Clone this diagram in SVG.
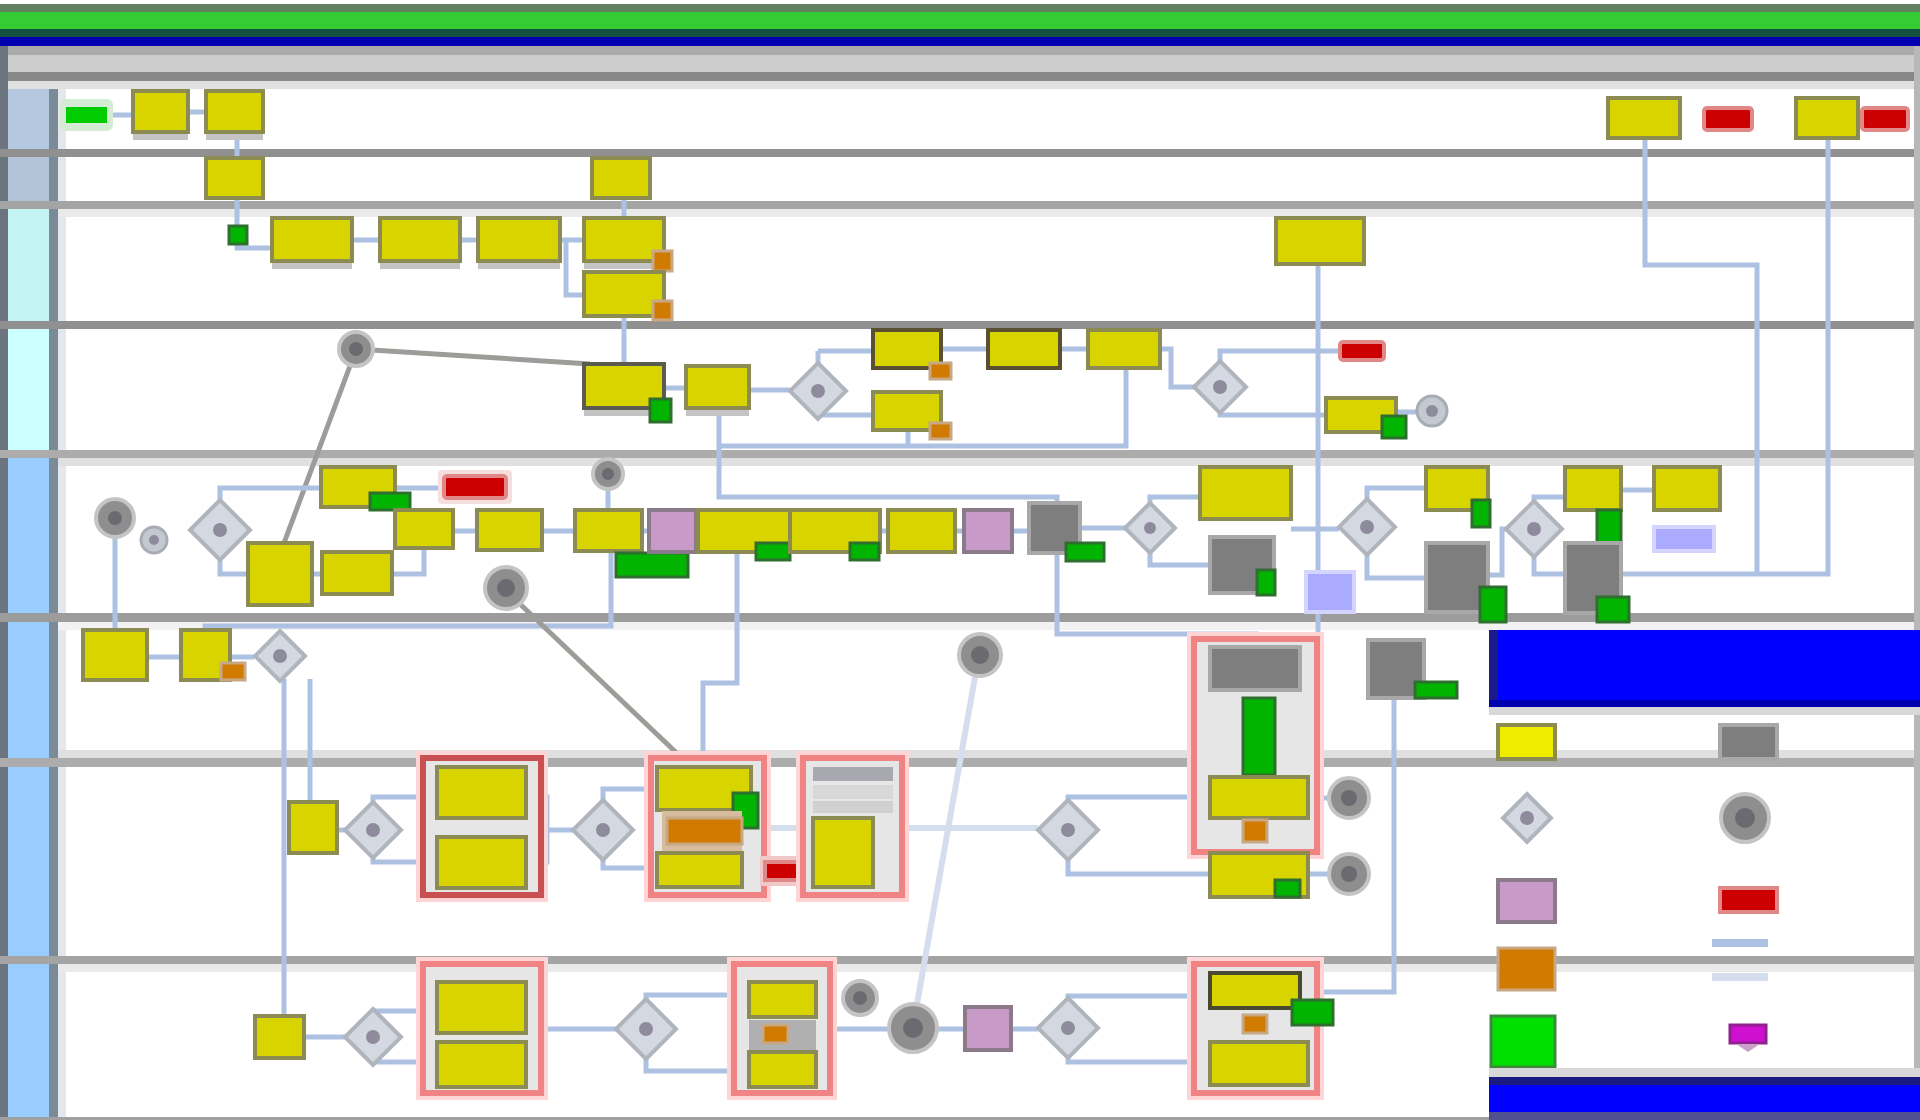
<svg xmlns="http://www.w3.org/2000/svg" width="1920" height="1120" viewBox="0 0 1920 1120">
<style>
.t{fill:#d8d400;stroke:#8c8c52;stroke-width:4}
.sh{fill:#c4c4c4}
.gb{fill:#7e7e7e;stroke:#a8a8a8;stroke-width:4}
.gm{fill:#00b400;stroke:#2e6e2e;stroke-width:3}
.om{fill:#d07a00;stroke:#c8a884;stroke-width:3}
.red{fill:#cc0000;stroke:#e08888;stroke-width:4}
.lil{fill:#c79ac7;stroke:#8a7a8a;stroke-width:4}
.lav{fill:#aaaaff;stroke:#d4d4ff;stroke-width:4}
.gw{fill:#d4d8e0;stroke:#b0b4bc;stroke-width:4}
.gwc{fill:#8e8c9c}
.ev{fill:#8e8e8e;stroke:#c4c4c4;stroke-width:4}
.evc{fill:#6a6a70}
.evl{fill:#c4c8d0;stroke:#a8acb4;stroke-width:3}
.ct{fill:#e6e6e6;stroke:#f08484;stroke-width:6}
.cth{fill:none;stroke:#ffd4d4;stroke-width:14}
.c{fill:none;stroke:#adc2e3;stroke-width:5}
.cl{fill:none;stroke:#d4deef;stroke-width:6}
.cg{fill:none;stroke:#9c9c98;stroke-width:5}
.hd{fill:#99ccff}
</style>
<g id="lanes">
<rect x="0" y="0" width="1920" height="1120" fill="#ffffff"/>
<rect x="0" y="4" width="1920" height="8" fill="#608060"/>
<rect x="0" y="12" width="1920" height="17" fill="#33cc33"/>
<rect x="0" y="29" width="1920" height="8" fill="#145040"/>
<rect x="0" y="37" width="1920" height="9" fill="#0000b0"/>
<rect x="0" y="46" width="1920" height="9" fill="#aaaaaa"/>
<rect x="0" y="55" width="1920" height="17" fill="#cccccc"/>
<rect x="0" y="72" width="1920" height="9" fill="#888888"/>
<rect x="0" y="81" width="1920" height="8" fill="#e0e0e0"/>
<rect x="0" y="46" width="8" height="1074" fill="#6c7480"/>
<rect x="8" y="89" width="41" height="60" fill="#b4c8e0"/>
<rect x="8" y="157" width="41" height="44" fill="#b4c4d8"/>
<rect x="8" y="209" width="41" height="112" fill="#c4f4f4"/>
<rect x="8" y="329" width="41" height="121" fill="#ccffff"/>
<rect x="8" y="458" width="41" height="155" class="hd"/>
<rect x="8" y="622" width="41" height="136" class="hd"/>
<rect x="8" y="767" width="41" height="189" class="hd"/>
<rect x="8" y="964" width="41" height="153" class="hd"/>
<rect x="49" y="89" width="9" height="1031" fill="#7a8a96"/>
<rect x="58" y="89" width="8" height="1031" fill="#e4e8ec"/>
<rect x="0" y="149" width="1920" height="8" fill="#909090"/>
<rect x="0" y="201" width="1920" height="8" fill="#a4a4a4"/>
<rect x="58" y="209" width="1862" height="8" fill="#eaeaea"/>
<rect x="0" y="321" width="1920" height="8" fill="#909090"/>
<rect x="0" y="450" width="1920" height="8" fill="#acacac"/>
<rect x="58" y="458" width="1862" height="8" fill="#e0e0e0"/>
<rect x="0" y="613" width="1920" height="9" fill="#9c9c9c"/>
<rect x="58" y="622" width="1862" height="8" fill="#f2f2f2"/>
<rect x="58" y="750" width="1862" height="8" fill="#e0e0e0"/>
<rect x="0" y="758" width="1920" height="9" fill="#acacac"/>
<rect x="0" y="956" width="1920" height="8" fill="#a4a4a4"/>
<rect x="58" y="964" width="1862" height="8" fill="#eaeaea"/>
<rect x="0" y="1117" width="1920" height="3" fill="#a0a0a0"/>
<rect x="1914" y="46" width="6" height="1074" fill="#b8b8b8"/>
</g>
<g id="connectors">
<polyline class="c" points="107,115 133,115"/>
<polyline class="c" points="188,112 206,112"/>
<polyline class="c" points="237,132 237,158"/>
<polyline class="c" points="237,198 237,226"/>
<polyline class="c" points="237,244 237,248 272,248"/>
<polyline class="c" points="352,240 380,240"/>
<polyline class="c" points="460,240 478,240"/>
<polyline class="c" points="560,240 584,240"/>
<polyline class="c" points="566,240 566,295 584,295"/>
<polyline class="c" points="624,198 624,218"/>
<polyline class="c" points="624,316 624,364"/>
<polyline class="c" points="664,388 686,388"/>
<polyline class="c" points="749,390 790,390"/>
<polyline class="c" points="818,351 818,415 873,415"/>
<polyline class="c" points="818,351 873,351"/>
<polyline class="c" points="941,349 988,349"/>
<polyline class="c" points="1060,349 1088,349"/>
<polyline class="c" points="1160,349 1171,349 1171,387 1194,387"/>
<polyline class="c" points="1220,361 1220,351 1340,351"/>
<polyline class="c" points="1220,413 1220,415 1326,415"/>
<polyline class="c" points="1396,412 1416,412"/>
<polyline class="c" points="908,430 908,446"/>
<polyline class="c" points="1126,368 1126,446 720,446"/>
<polyline class="c" points="719,408 719,497 1057,497 1057,503"/>
<polyline class="c" points="1645,138 1645,265 1757,265 1757,574"/>
<polyline class="c" points="1828,138 1828,574 1621,574"/>
<polyline class="c" points="1318,264 1318,798"/>
<polyline class="cg" points="372,350 590,364"/>
<polyline class="cg" points="350,366 284,543"/>
<polyline class="c" points="220,500 220,488 321,488"/>
<polyline class="c" points="395,488 444,488"/>
<polyline class="c" points="220,560 220,574 248,574"/>
<polyline class="c" points="312,574 322,574"/>
<polyline class="c" points="392,574 424,574 424,546"/>
<polyline class="c" points="453,531 477,531"/>
<polyline class="c" points="542,531 575,531"/>
<polyline class="c" points="642,531 1029,531"/>
<polyline class="c" points="1080,528 1126,528"/>
<polyline class="c" points="1150,503 1150,497 1200,497"/>
<polyline class="c" points="1150,553 1150,565 1210,565"/>
<polyline class="c" points="1291,529 1339,529"/>
<polyline class="c" points="1367,499 1367,488 1426,488"/>
<polyline class="c" points="1367,555 1367,578 1426,578"/>
<polyline class="c" points="1488,575 1502,575 1502,529 1506,529"/>
<polyline class="c" points="1534,501 1534,497 1565,497"/>
<polyline class="c" points="1534,557 1534,574 1565,574"/>
<polyline class="c" points="1621,490 1654,490"/>
<polyline class="c" points="608,490 608,510"/>
<polyline class="c" points="611,553 611,626 205,626 205,630"/>
<polyline class="c" points="115,538 115,630"/>
<polyline class="c" points="147,657 181,657"/>
<polyline class="c" points="230,657 254,657"/>
<polyline class="c" points="284,679 284,1016"/>
<polyline class="c" points="310,679 310,802"/>
<polyline class="cg" points="520,604 684,760"/>
<polyline class="c" points="737,553 737,683 703,683 703,758"/>
<polyline class="c" points="1057,553 1057,634 1256,634 1256,639"/>
<polyline class="cl" points="975,677 917,1004"/>
<polyline class="c" points="337,830 345,830"/>
<polyline class="c" points="373,830 373,797 437,797"/>
<polyline class="c" points="373,830 373,862 437,862"/>
<polyline class="c" points="526,797 547,797 547,862 526,862"/>
<polyline class="c" points="547,830 573,830"/>
<polyline class="c" points="603,830 603,789 657,789"/>
<polyline class="c" points="603,830 603,868 657,868"/>
<polyline class="cl" points="764,828 1038,828"/>
<polyline class="c" points="742,870 765,870"/>
<polyline class="c" points="1068,830 1068,797 1210,797"/>
<polyline class="c" points="1068,830 1068,874 1210,874"/>
<polyline class="c" points="1317,798 1329,798"/>
<polyline class="c" points="1308,874 1329,874"/>
<polyline class="c" points="1394,698 1394,992 1317,992"/>
<polyline class="c" points="304,1037 345,1037"/>
<polyline class="c" points="373,1037 373,1011 437,1011"/>
<polyline class="c" points="373,1037 373,1062 437,1062"/>
<polyline class="c" points="541,1029 616,1029"/>
<polyline class="c" points="646,1029 646,995 749,995"/>
<polyline class="c" points="646,1029 646,1071 749,1071"/>
<polyline class="c" points="830,1029 889,1029"/>
<polyline class="c" points="937,1029 1038,1029"/>
<polyline class="c" points="1068,1029 1068,996 1210,996"/>
<polyline class="c" points="1068,1029 1068,1062 1210,1062"/>
</g>
<g id="n-start"><rect x="60" y="99" width="53" height="32" rx="6" fill="#d4ecd4"/><rect x="66" y="107" width="41" height="16" fill="#00cc00"/></g>
<g id="n-a"><rect class="sh" x="133" y="99" width="55" height="41"/><rect class="t" x="133" y="91" width="55" height="41"/></g>
<g id="n-b"><rect class="sh" x="206" y="99" width="57" height="41"/><rect class="t" x="206" y="91" width="57" height="41"/></g>
<g id="n-c"><rect class="t" x="1608" y="98" width="72" height="40"/></g>
<g id="n-d"><rect class="red" x="1704" y="108" width="48" height="22" rx="3"/></g>
<g id="n-e"><rect class="t" x="1796" y="98" width="62" height="40"/></g>
<g id="n-f"><rect class="red" x="1862" y="108" width="46" height="22" rx="3"/></g>
<g id="n-g"><rect class="t" x="206" y="158" width="57" height="40"/></g>
<g id="n-h"><rect class="t" x="592" y="158" width="58" height="40"/></g>
<g id="n-gm1"><rect class="gm" x="229" y="226" width="18" height="18"/></g>
<g id="n-i"><rect class="sh" x="272" y="226" width="80" height="43"/><rect class="t" x="272" y="218" width="80" height="43"/></g>
<g id="n-j"><rect class="sh" x="380" y="226" width="80" height="43"/><rect class="t" x="380" y="218" width="80" height="43"/></g>
<g id="n-k"><rect class="sh" x="478" y="226" width="82" height="43"/><rect class="t" x="478" y="218" width="82" height="43"/></g>
<g id="n-l"><rect class="sh" x="584" y="226" width="80" height="43"/><rect class="t" x="584" y="218" width="80" height="43"/><rect class="om" x="653" y="251" width="19" height="20"/></g>
<g id="n-m"><rect class="t" x="584" y="272" width="80" height="44"/><rect class="om" x="653" y="301" width="19" height="19"/></g>
<g id="n-n"><rect class="t" x="1276" y="218" width="88" height="46"/></g>
<g id="n-p"><circle class="ev" cx="356" cy="349" r="17"/><circle class="evc" cx="356" cy="349" r="7"/></g>
<g id="n-q"><rect class="sh" x="584" y="372" width="80" height="44"/><rect class="t" x="584" y="364" width="80" height="44" style="stroke:#5a5a50"/><rect class="gm" x="650" y="399" width="21" height="23"/></g>
<g id="n-s"><rect class="sh" x="686" y="374" width="63" height="42"/><rect class="t" x="686" y="366" width="63" height="42"/></g>
<g id="n-t"><polygon class="gw" points="818,363 846,391 818,419 790,391"/><circle class="gwc" cx="818" cy="391" r="7"/></g>
<g id="n-u"><rect class="t" x="873" y="330" width="68" height="38" style="stroke:#5a5030"/><rect class="om" x="930" y="363" width="21" height="16"/></g>
<g id="n-v"><rect class="t" x="988" y="330" width="72" height="38" style="stroke:#5a5030"/></g>
<g id="n-w"><rect class="t" x="1088" y="330" width="72" height="38"/></g>
<g id="n-x"><rect class="t" x="873" y="392" width="68" height="38"/><rect class="om" x="930" y="423" width="21" height="16"/></g>
<g id="n-y"><polygon class="gw" points="1220,361 1246,387 1220,413 1194,387"/><circle class="gwc" cx="1220" cy="387" r="7"/></g>
<g id="n-z"><rect class="red" x="1340" y="342" width="44" height="18" rx="3"/></g>
<g id="n-aa"><rect class="t" x="1326" y="398" width="70" height="34"/><rect class="gm" x="1382" y="416" width="24" height="22"/></g>
<g id="n-ev1"><circle class="evl" cx="1432" cy="411" r="15"/><circle class="gwc" cx="1432" cy="411" r="6"/></g>
<g id="n-ev2"><circle class="ev" cx="115" cy="518" r="19"/><circle class="evc" cx="115" cy="518" r="7"/></g>
<g id="n-ev3"><circle class="evl" cx="154" cy="540" r="13"/><circle class="gwc" cx="154" cy="540" r="5"/></g>
<g id="n-ab"><polygon class="gw" points="220,500 250,530 220,560 190,530"/><circle class="gwc" cx="220" cy="530" r="7"/></g>
<g id="n-ac"><rect class="t" x="321" y="467" width="74" height="40"/><rect class="gm" x="370" y="493" width="40" height="17"/></g>
<g id="n-red2"><rect x="438" y="470" width="74" height="34" rx="4" fill="#f4dede"/><rect class="red" x="444" y="476" width="62" height="22" rx="3"/></g>
<g id="n-ad"><rect class="t" x="248" y="543" width="64" height="62"/></g>
<g id="n-ae"><rect class="t" x="322" y="552" width="70" height="42"/></g>
<g id="n-af"><rect class="t" x="395" y="510" width="58" height="38"/></g>
<g id="n-ag"><rect class="t" x="477" y="510" width="65" height="40"/></g>
<g id="n-ap"><circle class="ev" cx="608" cy="474" r="15"/><circle class="evc" cx="608" cy="474" r="6"/></g>
<g id="n-ah"><rect class="t" x="575" y="510" width="67" height="41"/><rect class="gm" x="616" y="553" width="72" height="24"/></g>
<g id="n-lil1"><rect class="lil" x="649" y="510" width="47" height="42"/></g>
<g id="n-ai"><rect class="t" x="698" y="510" width="92" height="42"/><rect class="gm" x="756" y="543" width="34" height="17"/></g>
<g id="n-aj"><rect class="t" x="790" y="510" width="90" height="42"/><rect class="gm" x="850" y="543" width="29" height="17"/></g>
<g id="n-ak"><rect class="t" x="888" y="510" width="67" height="42"/></g>
<g id="n-lil2"><rect class="lil" x="964" y="510" width="48" height="42"/></g>
<g id="n-al"><rect class="gb" x="1029" y="503" width="51" height="50"/><rect class="gm" x="1066" y="543" width="38" height="18"/></g>
<g id="n-an"><circle class="ev" cx="506" cy="588" r="21"/><circle class="evc" cx="506" cy="588" r="9"/></g>
<g id="n-ax"><polygon class="gw" points="1150,503 1175,528 1150,553 1125,528"/><circle class="gwc" cx="1150" cy="528" r="6"/></g>
<g id="n-at"><rect class="t" x="1200" y="467" width="91" height="52"/></g>
<g id="n-ay"><rect class="gb" x="1210" y="537" width="64" height="56"/><rect class="gm" x="1257" y="570" width="18" height="25"/></g>
<g id="n-ar"><rect class="lav" x="1306" y="572" width="48" height="40"/></g>
<g id="n-au"><polygon class="gw" points="1367,499 1395,527 1367,555 1339,527"/><circle class="gwc" cx="1367" cy="527" r="7"/></g>
<g id="n-av"><rect class="t" x="1426" y="467" width="62" height="43"/><rect class="gm" x="1472" y="500" width="18" height="27"/></g>
<g id="n-aw"><rect class="gb" x="1426" y="543" width="62" height="69"/><rect class="gm" x="1480" y="587" width="26" height="35"/></g>
<g id="n-cc"><polygon class="gw" points="1534,501 1562,529 1534,557 1506,529"/><circle class="gwc" cx="1534" cy="529" r="7"/></g>
<g id="n-bz"><rect class="t" x="1565" y="467" width="56" height="43"/><rect class="gm" x="1597" y="510" width="24" height="33"/></g>
<g id="n-ca"><rect class="t" x="1654" y="467" width="66" height="43"/></g>
<g id="n-cb"><rect class="lav" x="1654" y="527" width="60" height="24"/></g>
<g id="n-by"><rect class="gb" x="1565" y="543" width="56" height="70"/><rect class="gm" x="1597" y="597" width="32" height="25"/></g>
<g id="n-am"><rect class="t" x="83" y="630" width="64" height="50"/></g>
<g id="n-bb"><rect class="t" x="181" y="630" width="49" height="50"/><rect class="om" x="221" y="663" width="24" height="17"/></g>
<g id="n-bx"><polygon class="gw" points="280,631 305,656 280,681 255,656"/><circle class="gwc" cx="280" cy="656" r="7"/></g>
<g id="n-az"><circle class="ev" cx="980" cy="655" r="21"/><circle class="evc" cx="980" cy="655" r="9"/></g>
<g id="n-aq"><rect class="gb" x="1368" y="640" width="56" height="58"/><rect class="gm" x="1415" y="682" width="42" height="16"/></g>
<g id="n-bk"><rect class="cth" x="1194" y="639" width="123" height="213"/><rect class="ct" x="1194" y="639" width="123" height="213"/><rect class="gb" x="1210" y="647" width="90" height="43"/><rect class="gm" x="1243" y="698" width="32" height="77"/><rect class="t" x="1210" y="777" width="98" height="41"/><rect class="om" x="1243" y="820" width="24" height="22"/></g>
<g id="n-bc"><rect class="t" x="289" y="802" width="48" height="51"/></g>
<g id="n-bd"><polygon class="gw" points="373,802 401,830 373,858 345,830"/><circle class="gwc" cx="373" cy="830" r="7"/></g>
<g id="n-be"><rect class="cth" x="423" y="758" width="118" height="137"/><rect class="ct" x="423" y="758" width="118" height="137" style="stroke:#c85050"/><rect class="t" x="437" y="767" width="89" height="51"/><rect class="t" x="437" y="837" width="89" height="51"/></g>
<g id="n-bf"><polygon class="gw" points="603,800 633,830 603,860 573,830"/><circle class="gwc" cx="603" cy="830" r="7"/></g>
<g id="n-bg"><rect class="cth" x="651" y="758" width="113" height="137"/><rect class="ct" x="651" y="758" width="113" height="137"/><rect class="t" x="657" y="767" width="94" height="43"/><rect class="gm" x="733" y="793" width="25" height="35"/><rect x="662" y="811" width="80" height="40" fill="#d8bca0"/><rect class="om" x="667" y="818" width="75" height="26"/><rect class="t" x="657" y="853" width="85" height="34"/></g>
<g id="n-bh"><rect x="760" y="856" width="50" height="30" fill="#f0c8c8"/><rect class="red" x="765" y="862" width="40" height="18"/></g>
<g id="n-bi"><rect class="cth" x="803" y="758" width="99" height="137"/><rect class="ct" x="803" y="758" width="99" height="137"/><rect x="813" y="767" width="80" height="14" fill="#a8a8b0"/><rect x="813" y="785" width="80" height="14" fill="#d8d8d8"/><rect x="813" y="801" width="80" height="12" fill="#d0d0d0"/><rect class="t" x="813" y="818" width="60" height="69"/></g>
<g id="n-bj"><polygon class="gw" points="1068,800 1098,830 1068,860 1038,830"/><circle class="gwc" cx="1068" cy="830" r="7"/></g>
<g id="n-bl"><rect class="t" x="1210" y="853" width="98" height="44"/><rect class="gm" x="1275" y="880" width="25" height="17"/></g>
<g id="n-bm"><circle class="ev" cx="1349" cy="798" r="20"/><circle class="evc" cx="1349" cy="798" r="8"/></g>
<g id="n-bn"><circle class="ev" cx="1349" cy="874" r="20"/><circle class="evc" cx="1349" cy="874" r="8"/></g>
<g id="n-bp"><rect class="t" x="255" y="1016" width="49" height="42"/></g>
<g id="n-bq"><polygon class="gw" points="373,1009 401,1037 373,1065 345,1037"/><circle class="gwc" cx="373" cy="1037" r="7"/></g>
<g id="n-br"><rect class="cth" x="423" y="964" width="118" height="129"/><rect class="ct" x="423" y="964" width="118" height="129"/><rect class="t" x="437" y="982" width="89" height="51"/><rect class="t" x="437" y="1042" width="89" height="45"/></g>
<g id="n-bs"><polygon class="gw" points="646,999 676,1029 646,1059 616,1029"/><circle class="gwc" cx="646" cy="1029" r="7"/></g>
<g id="n-bt"><rect class="cth" x="734" y="964" width="96" height="129"/><rect class="ct" x="734" y="964" width="96" height="129"/><rect class="t" x="749" y="982" width="67" height="35"/><rect x="749" y="1020" width="67" height="30" fill="#b0b0b0"/><rect class="om" x="763" y="1025" width="25" height="18"/><rect class="t" x="749" y="1052" width="67" height="35"/></g>
<g id="n-bu"><circle class="ev" cx="860" cy="998" r="17"/><circle class="evc" cx="860" cy="998" r="7"/></g>
<g id="n-ba"><circle class="ev" cx="913" cy="1028" r="24"/><circle class="evc" cx="913" cy="1028" r="10"/></g>
<g id="n-bv"><rect class="lil" x="965" y="1007" width="46" height="43"/></g>
<g id="n-bw"><polygon class="gw" points="1068,998 1098,1028 1068,1058 1038,1028"/><circle class="gwc" cx="1068" cy="1028" r="7"/></g>
<g id="n-bo"><rect class="cth" x="1194" y="964" width="123" height="129"/><rect class="ct" x="1194" y="964" width="123" height="129"/><rect class="t" x="1210" y="973" width="90" height="35" style="stroke:#4a4a30"/><rect class="om" x="1243" y="1015" width="24" height="18"/><rect class="gm" x="1292" y="1000" width="41" height="25"/><rect class="t" x="1210" y="1042" width="98" height="43"/></g>
<g id="legend">
<rect x="1489" y="630" width="431" height="77" fill="#0000ff"/>
<rect x="1489" y="630" width="9" height="77" fill="#1a1a8a"/>
<rect x="1489" y="700" width="431" height="7" fill="#0000b0"/>
<rect x="1489" y="707" width="431" height="8" fill="#d8d8d8"/>
<rect class="t" x="1498" y="725" width="57" height="34" style="fill:#f0ec00"/>
<rect class="gb" x="1720" y="725" width="57" height="34"/>
<polygon class="gw" points="1527,794 1551,818 1527,842 1503,818"/><circle class="gwc" cx="1527" cy="818" r="7"/>
<circle class="ev" cx="1745" cy="818" r="24"/><circle class="evc" cx="1745" cy="818" r="10"/>
<rect class="lil" x="1498" y="880" width="57" height="42"/>
<rect class="red" x="1720" y="888" width="57" height="24"/>
<rect class="om" x="1498" y="948" width="57" height="42"/>
<line x1="1712" y1="943" x2="1768" y2="943" stroke="#adc2e3" stroke-width="8"/>
<line x1="1712" y1="977" x2="1768" y2="977" stroke="#d4deef" stroke-width="8"/>
<rect class="gm" x="1491" y="1016" width="64" height="51" style="fill:#00e000;stroke:#3a8a3a"/>
<rect x="1730" y="1025" width="36" height="18" fill="#d010d0" stroke="#902090" stroke-width="3"/>
<polygon points="1736,1044 1760,1044 1748,1052" fill="#c8a0c8"/>
<rect x="1489" y="1068" width="431" height="9" fill="#d8d8d8"/>
<rect x="1489" y="1077" width="431" height="35" fill="#0000ff"/>
<rect x="1489" y="1077" width="431" height="8" fill="#1a1a80"/>
<rect x="1489" y="1112" width="431" height="8" fill="#505090"/>
</g>
</svg>
